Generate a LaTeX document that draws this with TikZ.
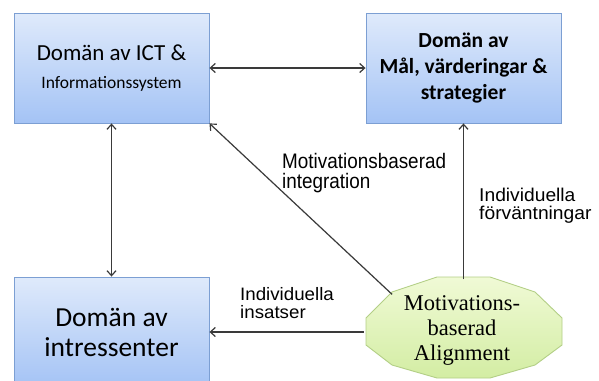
\documentclass[tikz,border=0pt]{standalone}
\usepackage{fontspec}
\usepackage{graphicx}
\usetikzlibrary{arrows.meta,shapes.geometric,calc}
\newfontfamily\calfont{Carlito}
\newfontfamily\arialfont{Liberation Sans}
\newfontfamily\timesfont{Liberation Serif}
\definecolor{boxline}{HTML}{7C9FD3}
\definecolor{boxtop}{HTML}{DFEAFB}
\definecolor{boxbot}{HTML}{A4C3F5}
\definecolor{octline}{HTML}{B3CF86}
\definecolor{octtop}{HTML}{F0FAD6}
\definecolor{octbot}{HTML}{D3EDA3}
\definecolor{arrcol}{HTML}{3A3A3A}
\tikzset{
  dombox/.style={draw=boxline, line width=0.9pt, top color=boxtop, bottom color=boxbot,
    minimum width=195pt, align=center, inner sep=0pt},
  arr/.style={draw=arrcol, line width=1.2pt, -{Straight Barb[length=5pt,width=9pt]}},
  dblarr/.style={draw=arrcol, line width=1.2pt, {Straight Barb[length=5pt,width=9pt]}-{Straight Barb[length=5pt,width=9pt]}},
  lbl/.style={inner sep=0pt, anchor=base west, font=\arialfont}
}
\begin{document}
\begin{tikzpicture}[x=1pt,y=-1pt]
\clip (0,0) rectangle (599,380);
\fill[white] (0,0) rectangle (599,380);
% boxes
\node[dombox, minimum height=110pt, font=\calfont\fontsize{23}{25}\selectfont] (A) at (111.5,68)
  {Domän av ICT \&\\[3pt]{\fontsize{17.5}{21}\selectfont Informationssystem}};
\node[dombox, minimum height=110pt, font=\calfont\bfseries\fontsize{21.5}{26}\selectfont] (B) at (463.5,68)
  {Domän av\\Mål, värderingar \&\\strategier};
\node[dombox, minimum height=110pt, font=\calfont\fontsize{27.5}{30}\selectfont] (C) at (111.5,332)
  {Domän av\\intressenter};
% octagon
\shade[draw=octline, line width=0.9pt, top color=octtop, bottom color=octbot]
  (437,277) -- (490,277) -- (535,292) -- (562,318) -- (562,345) -- (535,365)
  -- (490,378) -- (437,378) -- (392,365) -- (366,345) -- (366,318) -- (392,292) -- cycle;
\node[ellipse, minimum width=196pt, minimum height=101pt, inner sep=0pt, align=center,
  font=\timesfont\fontsize{22.5}{25}\selectfont] (M) at (462,330)
  {Motivations-\\baserad\\Alignment};
% connectors
\draw[dblarr] (A.east) -- (B.west);
\draw[dblarr] (A.south) -- (C.north);
\draw[arr] (M.153) -- (A.south east);
\draw[arr] (M.north -| B.south) -- (B.south);
\draw[arr] (M.west |- C.east) -- (C.east);
% labels
\node[lbl] (L1) at (282,168)
  {\scalebox{0.9}[1]{\fontsize{21}{18.5}\selectfont\begin{tabular}[t]{@{}l@{}}Motivationsbaserad\\integration\end{tabular}}};
\node[lbl] (L2) at (479,201)
  {\scalebox{1.04}[1]{\fontsize{18.5}{17.3}\selectfont\begin{tabular}[t]{@{}l@{}}Individuella\\förväntningar\end{tabular}}};
\node[lbl] (L3) at (240,300.7)
  {\scalebox{1.04}[1]{\fontsize{18}{14.5}\selectfont\begin{tabular}[t]{@{}l@{}}Individuella\\insatser\end{tabular}}};
\end{tikzpicture}
\end{document}
